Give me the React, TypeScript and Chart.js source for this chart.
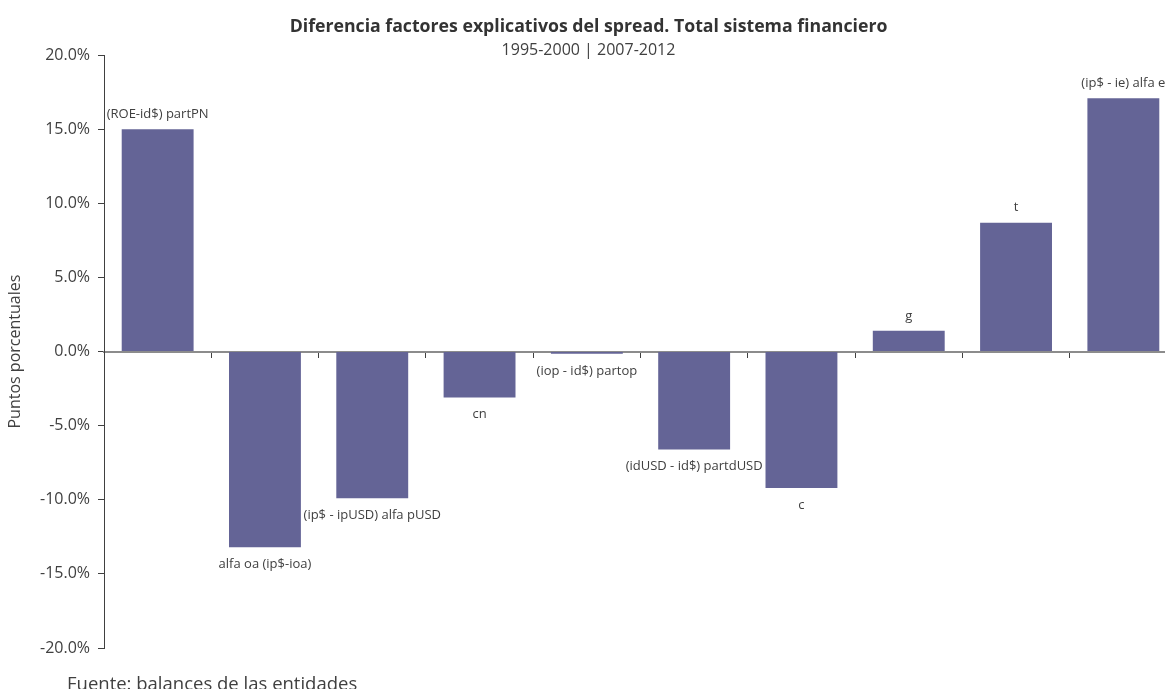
import React, { useEffect, useRef } from "react";
import { Chart, registerables } from "chart.js";

Chart.register(...registerables);

const categories = [
  "(ROE-id$) partPN",
  "alfa oa (ip$-ioa)",
  "(ip$ - ipUSD) alfa pUSD",
  "cn",
  "(iop - id$) partop",
  "(idUSD - id$) partdUSD",
  "c",
  "g",
  "t",
  "(ip$ - ie) alfa e",
];
const values = [15.0, -13.2, -9.9, -3.1, -0.15, -6.6, -9.2, 1.4, 8.7, 17.1];
const yMin = -20;
const yMax = 20;
const yStep = 5;
const titleText = "Diferencia factores explicativos del spread. Total sistema financiero";
const subtitleText = "1995-2000 | 2007-2012";
const yAxisTitle = "Puntos porcentuales";
const footerText = "Fuente: balances de las entidades";

const FONT = "'Open Sans', sans-serif";
const TEXT = "#404040";
const BAR = "#646496";

const barLabels = {
  id: "barLabels",
  afterDatasetsDraw(chart: any) {
    const ctx = chart.ctx;
    const meta = chart.getDatasetMeta(0);
    ctx.save();
    ctx.font = `13px ${FONT}`;
    ctx.fillStyle = TEXT;
    ctx.textAlign = "center";
    ctx.textBaseline = "middle";
    meta.data.forEach((el: any, i: number) => {
      const p = el.getProps(["x", "y"], true);
      const y = values[i] >= 0 ? p.y - 15 : p.y + 17;
      ctx.fillText(categories[i], p.x, y);
    });
    ctx.restore();
  },
};

const footer = {
  id: "footer",
  afterDraw(chart: any) {
    const ctx = chart.ctx;
    const a = chart.chartArea;
    ctx.save();
    ctx.font = `18.5px ${FONT}`;
    ctx.fillStyle = TEXT;
    ctx.textAlign = "left";
    ctx.textBaseline = "middle";
    ctx.fillText(footerText, a.left - 37, a.bottom + 37);
    ctx.restore();
  },
};

export default function App() {
  const ref = useRef<HTMLCanvasElement | null>(null);
  useEffect(() => {
    if (!ref.current) return;
    const chart = new Chart(ref.current, {
      type: "bar",
      data: {
        labels: categories,
        datasets: [
          {
            data: values,
            backgroundColor: BAR,
            borderWidth: 0,
            barPercentage: 0.67,
            categoryPercentage: 1,
          },
        ],
      },
      options: {
        responsive: false,
        animation: false,
        devicePixelRatio: 1,
        layout: { padding: { left: 0, right: 39, top: 0, bottom: 52 } },
        plugins: {
          legend: { display: false },
          tooltip: { enabled: false },
          title: {
            display: true,
            text: titleText,
            color: "#333333",
            font: { family: FONT, size: 17.7, weight: "bold", lineHeight: 1 },
            padding: { top: 18, bottom: 7 },
          },
          subtitle: {
            display: true,
            text: subtitleText,
            color: TEXT,
            font: { family: FONT, size: 16, lineHeight: 1 },
            padding: { top: 0, bottom: -3.5 },
          },
        },
        scales: {
          x: {
            position: { y: 0 } as any,
            ticks: { display: false },
            grid: {
              offset: true,
              drawOnChartArea: false,
              drawTicks: true,
              tickLength: 5,
              color: "#404040",
            },
            border: { color: "#8c8c8c", width: 2 },
          },
          y: {
            min: yMin,
            max: yMax,
            afterFit: (scale: any) => {
              scale.width = 104;
            },
            ticks: {
              stepSize: yStep,
              padding: 8,
              color: TEXT,
              font: { family: FONT, size: 16 },
              callback: (v: any) => Number(v).toFixed(1) + "%",
            },
            grid: {
              drawOnChartArea: false,
              drawTicks: true,
              tickLength: 6,
              color: "#404040",
            },
            border: { color: "#404040", width: 1 },
            title: {
              display: true,
              text: yAxisTitle,
              color: TEXT,
              font: { family: FONT, size: 16 },
              padding: { top: 6, bottom: 0 },
            },
          },
        },
      },
      plugins: [barLabels, footer],
    });
    return () => chart.destroy();
  }, []);

  return (
    <div
      style={{
        position: "fixed",
        left: 0,
        top: 0,
        width: 1165,
        height: 689,
        overflow: "hidden",
        background: "#ffffff",
      }}
    >
      <canvas ref={ref} width={1216} height={700} style={{ display: "block" }} />
    </div>
  );
}
